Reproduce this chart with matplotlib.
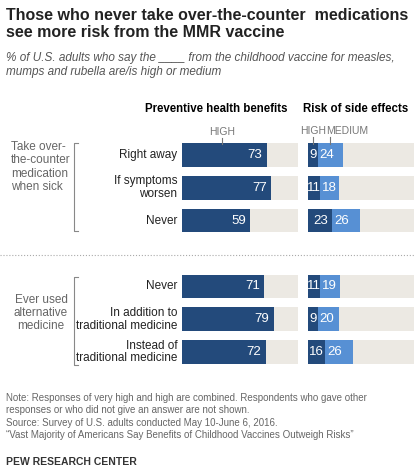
import matplotlib.pyplot as plt
from matplotlib.lines import Line2D

rows = ["Right away", "If symptoms\nworsen", "Never",
        "Never", "In addition to\ntraditional medicine", "Instead of\ntraditional medicine"]
benefit_high = [73, 77, 59, 71, 79, 72]
risk_high = [9, 11, 23, 11, 9, 16]
risk_medium = [24, 18, 26, 19, 20, 26]
ypos = [0, 1, 2, 4, 5, 6]

DARK = "#234a7b"
LIGHT = "#5790d4"
BG = "#ece9e3"
W, H = 415, 476

fig = plt.figure(figsize=(W / 100, H / 100), dpi=100)
plt.rcParams["font.family"] = "Liberation Sans"

def fx(px): return px / W
def fy(py): return 1 - py / H

bottom, height = fy(368.4), 229.8 / H
ax1 = fig.add_axes([fx(182), bottom, 116 / W, height])
ax2 = fig.add_axes([fx(308), bottom, 106 / W, height])
bh = 0.72
for ax in (ax1, ax2):
    ax.barh(ypos, [100] * 6, color=BG, height=bh)
    ax.set_xlim(0, 100)
    ax.set_ylim(6.5, -0.5)
    ax.axis("off")

ax1.barh(ypos, benefit_high, color=DARK, height=bh)
for y, v in zip(ypos, benefit_high):
    ax1.text(v - 4, y, str(v), color="white", ha="right", va="center", fontsize=9.5)
ax2.barh(ypos, risk_high, color=DARK, height=bh)
ax2.barh(ypos, risk_medium, left=risk_high, color=LIGHT, height=bh)
for y, h, m in zip(ypos, risk_high, risk_medium):
    ax2.text(h / 2, y, str(h), color="white", ha="center", va="center", fontsize=9.5)
    ax2.text(h + 2, y, str(m), color="white", ha="left", va="center", fontsize=9.5)

for y, lab in zip(ypos, rows):
    ax1.text(-4, y, lab, ha="right", va="center", fontsize=8.5, color="#222222", linespacing=1.1)

# title and subtitle
fig.text(fx(6), fy(8), "Those who never take over-the-counter  medications\nsee more risk from the MMR vaccine",
         fontsize=11.5, fontweight="bold", va="top", color="#222222", linespacing=1.15)
fig.text(fx(6), fy(52), "% of U.S. adults who say the ____ from the childhood vaccine for measles,\nmumps and rubella are/is high or medium",
         fontsize=8.5, style="italic", va="top", color="#555555", linespacing=1.2)

fig.text(fx(216), fy(109), "Preventive health benefits", fontsize=8.3, fontweight="bold", ha="center", va="center")
fig.text(fx(356), fy(109), "Risk of side effects", fontsize=8.3, fontweight="bold", ha="center", va="center")
fig.text(fx(222), fy(132), "HIGH", fontsize=7.5, color="#777777", ha="center", va="center")
fig.text(fx(313), fy(131), "HIGH", fontsize=7.5, color="#777777", ha="center", va="center")
fig.text(fx(347), fy(131), "MEDIUM", fontsize=7.5, color="#777777", ha="center", va="center")
for x, y0 in [(222, 138), (313, 137), (330, 137)]:
    fig.add_artist(Line2D([fx(x), fx(x)], [fy(y0), fy(144)], color="#777777", lw=0.8))

# group labels with brackets
fig.text(fx(11), fy(167), "Take over-\nthe-counter\nmedication\nwhen sick",
         fontsize=8.5, color="#666666", va="center", ha="left", linespacing=1.15)
fig.text(fx(41), fy(313), "Ever used\nalternative\nmedicine", fontsize=8.5, color="#666666", va="center", ha="center",
         linespacing=1.15)
for top, bot in [(143, 231), (277, 365)]:
    fig.add_artist(Line2D([fx(78), fx(74), fx(74), fx(78)], [fy(top), fy(top), fy(bot), fy(bot)],
                          color="#888888", lw=0.8))

fig.add_artist(Line2D([0, 1], [fy(255), fy(255)], color="#aaaaaa", lw=0.8, ls=":"))

fig.text(fx(6), fy(393), "Note: Responses of very high and high are combined. Respondents who gave other\n"
         "responses or who did not give an answer are not shown.\n"
         "Source: Survey of U.S. adults conducted May 10-June 6, 2016.\n"
         "\u201cVast Majority of Americans Say Benefits of Childhood Vaccines Outweigh Risks\u201d",
         fontsize=7, color="#666666", va="top", linespacing=1.3)
fig.text(fx(6), fy(462), "PEW RESEARCH CENTER", fontsize=7.5, fontweight="bold", color="#333333", va="center")

fig.savefig("out.png", dpi=100)
